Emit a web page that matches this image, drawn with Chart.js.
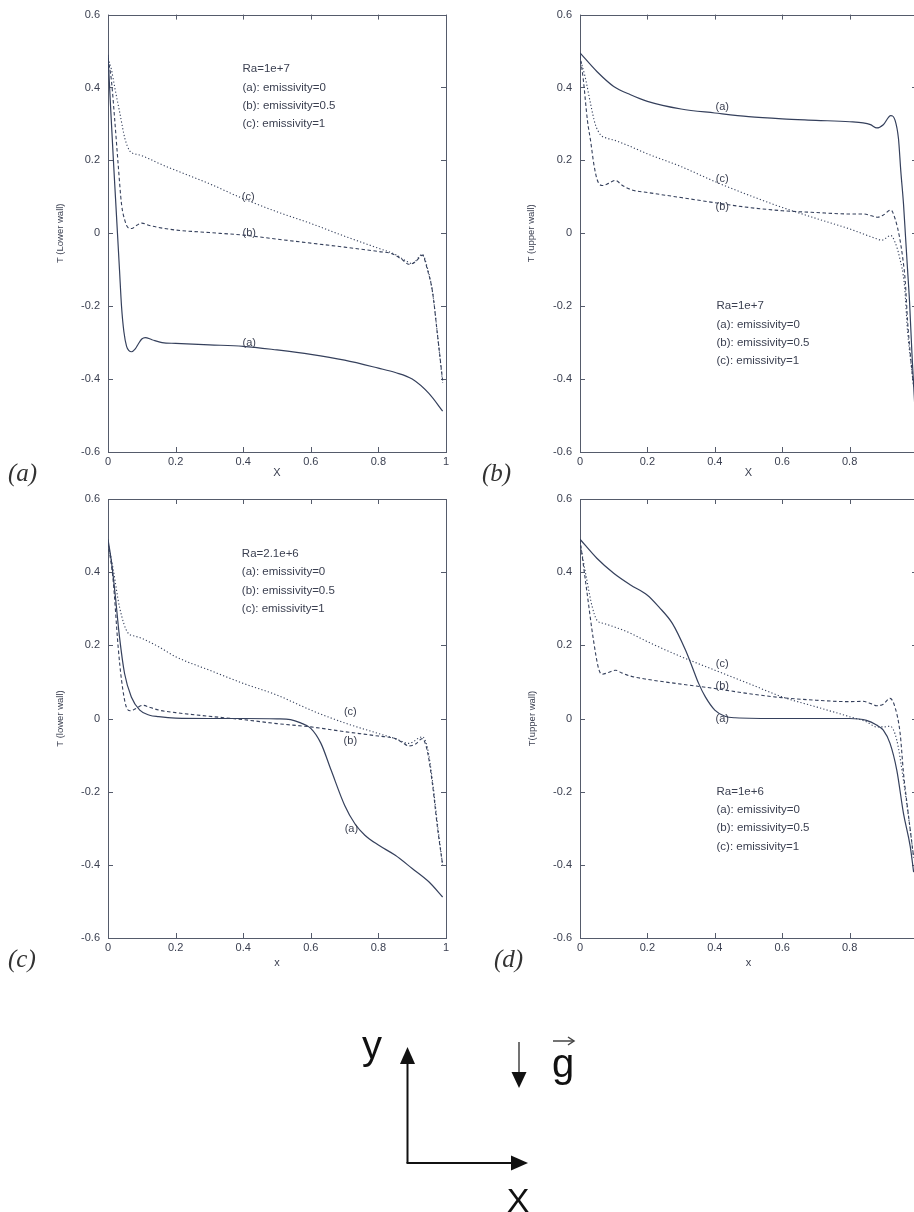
<!DOCTYPE html>
<html>
<head>
<meta charset="utf-8">
<script src="https://cdn.jsdelivr.net/npm/chart.js@4.4.1/dist/chart.umd.min.js"></script>
<style>
  html, body { margin: 0; padding: 0; background: #fff; }
  body { width: 914px; height: 1212px; position: relative; overflow: hidden; }
  canvas { position: absolute; }
  .tag { position: absolute; font-family: 'Liberation Serif', serif; font-style: italic;
         font-size: 25px; line-height: 25px; color: #333; }
  svg { position: absolute; left: 0; top: 0; }
</style>
</head>
<body>
<canvas id="p1" width="460" height="480" style="left:0;top:0;width:460px;height:480px"></canvas>
<canvas id="p2" width="470" height="480" style="left:460px;top:0;width:470px;height:480px"></canvas>
<canvas id="p3" width="460" height="500" style="left:0;top:480px;width:460px;height:500px"></canvas>
<canvas id="p4" width="470" height="500" style="left:460px;top:480px;width:470px;height:500px"></canvas>

<div class="tag" style="left:8px;top:460px">(a)</div>
<div class="tag" style="left:482px;top:460px">(b)</div>
<div class="tag" style="left:8px;top:946px">(c)</div>
<div class="tag" style="left:494px;top:946px">(d)</div>

<svg width="914" height="1212">
  <g stroke="#111" stroke-width="2" fill="#111">
    <line x1="407.5" y1="1163" x2="407.5" y2="1060" />
    <polygon points="407.5,1047 400,1064 415,1064" stroke="none" />
    <line x1="406.5" y1="1163" x2="514" y2="1163" />
    <polygon points="528,1163 511,1155.5 511,1170.5" stroke="none" />
  </g>
  <g stroke="#444" stroke-width="1.5" fill="#111">
    <line x1="519" y1="1042" x2="519" y2="1075" />
    <polygon points="519,1088 511.5,1072 526.5,1072" stroke="none" />
    <line x1="553" y1="1041" x2="574" y2="1041" />
    <polyline points="568,1037 574,1041 568,1045" fill="none" />
  </g>
  <g font-family="Liberation Sans, Arial, sans-serif" fill="#111">
    <text x="362" y="1059" font-size="40">y</text>
    <text x="552" y="1077" font-size="40">g</text>
    <text x="518" y="1212" font-size="34" text-anchor="middle">X</text>
  </g>
</svg>

<script>
// axis ticks shared by all four panels
const xTicks = [0, 0.2, 0.4, 0.6, 0.8, 1];
const xTickLabels = ['0', '0.2', '0.4', '0.6', '0.8', '1'];
const yTicks = [-0.6, -0.4, -0.2, 0, 0.2, 0.4, 0.6];
const yTickLabels = ['-0.6', '-0.4', '-0.2', '0', '0.2', '0.4', '0.6'];
const seriesNames = ['(a): emissivity=0', '(b): emissivity=0.5', '(c): emissivity=1'];

// panel (a): lower wall, Ra=1e+7
const p1_aX = [0, 0.008, 0.016, 0.022, 0.028, 0.034, 0.04, 0.047, 0.055, 0.062, 0.07, 0.08, 0.09, 0.1, 0.11, 0.13, 0.16, 0.2, 0.3, 0.4, 0.5, 0.6, 0.7, 0.8, 0.85, 0.9, 0.95, 0.99];
const p1_aT = [0.49, 0.34, 0.2, 0.1, 0.0, -0.1, -0.2, -0.27, -0.31, -0.322, -0.325, -0.318, -0.303, -0.29, -0.286, -0.292, -0.3, -0.302, -0.306, -0.31, -0.32, -0.332, -0.348, -0.37, -0.382, -0.4, -0.44, -0.488];
const p1_bX = [0, 0.01, 0.02, 0.03, 0.04, 0.05, 0.06, 0.07, 0.085, 0.1, 0.12, 0.15, 0.2, 0.3, 0.4, 0.5, 0.6, 0.7, 0.8, 0.84, 0.87, 0.89, 0.91, 0.93, 0.945, 0.96, 0.975, 0.99];
const p1_bT = [0.48, 0.42, 0.31, 0.19, 0.08, 0.035, 0.015, 0.013, 0.022, 0.028, 0.022, 0.016, 0.009, 0.002, -0.005, -0.016, -0.027, -0.038, -0.05, -0.056, -0.072, -0.085, -0.078, -0.06, -0.1, -0.16, -0.28, -0.404];
const p1_cX = [0, 0.01, 0.02, 0.035, 0.05, 0.065, 0.08, 0.1, 0.12, 0.15, 0.2, 0.3, 0.4, 0.5, 0.6, 0.7, 0.8, 0.85, 0.88, 0.9, 0.93, 0.945, 0.96, 0.975, 0.99];
const p1_cT = [0.48, 0.45, 0.4, 0.33, 0.26, 0.225, 0.218, 0.213, 0.205, 0.192, 0.173, 0.136, 0.095, 0.059, 0.027, -0.008, -0.041, -0.058, -0.075, -0.083, -0.058, -0.095, -0.16, -0.28, -0.41];

// panel (b): upper wall, Ra=1e+7
const p2_aX = [0, 0.05, 0.1, 0.15, 0.2, 0.3, 0.4, 0.5, 0.6, 0.7, 0.8, 0.84, 0.862, 0.881, 0.9, 0.922, 0.935, 0.945, 0.952, 0.96, 0.966, 0.972, 0.978, 0.985, 0.995];
const p2_aT = [0.495, 0.444, 0.403, 0.38, 0.362, 0.341, 0.33, 0.32, 0.314, 0.31, 0.306, 0.303, 0.298, 0.289, 0.298, 0.323, 0.31, 0.26, 0.17, 0.08, -0.01, -0.1, -0.19, -0.33, -0.5];
const p2_bX = [0, 0.01, 0.022, 0.032, 0.041, 0.051, 0.066, 0.085, 0.105, 0.125, 0.154, 0.2, 0.3, 0.4, 0.5, 0.6, 0.7, 0.8, 0.84, 0.865, 0.883, 0.9, 0.922, 0.935, 0.948, 0.958, 0.965, 0.972, 0.98, 0.99];
const p2_bT = [0.49, 0.42, 0.31, 0.25, 0.19, 0.147, 0.131, 0.137, 0.145, 0.132, 0.119, 0.112, 0.098, 0.084, 0.071, 0.062, 0.057, 0.053, 0.053, 0.048, 0.044, 0.05, 0.064, 0.04, -0.01, -0.07, -0.13, -0.24, -0.33, -0.42];
const p2_cX = [0, 0.015, 0.031, 0.045, 0.061, 0.08, 0.1, 0.15, 0.2, 0.3, 0.4, 0.5, 0.6, 0.7, 0.8, 0.85, 0.88, 0.895, 0.922, 0.935, 0.948, 0.963, 0.972, 0.98, 0.99];
const p2_cT = [0.48, 0.43, 0.357, 0.3, 0.27, 0.261, 0.256, 0.238, 0.218, 0.183, 0.142, 0.105, 0.071, 0.041, 0.012, -0.005, -0.015, -0.019, -0.006, -0.025, -0.065, -0.145, -0.27, -0.34, -0.42];

// panel (c): lower wall, Ra=2.1e+6
const p3_aX = [0, 0.01, 0.02, 0.034, 0.049, 0.069, 0.094, 0.123, 0.15, 0.2, 0.3, 0.4, 0.5, 0.54, 0.57, 0.6, 0.63, 0.66, 0.7, 0.73, 0.76, 0.8, 0.85, 0.9, 0.95, 0.99];
const p3_aT = [0.49, 0.43, 0.35, 0.223, 0.123, 0.059, 0.023, 0.009, 0.005, 0.001, 0, 0, -0.001, -0.003, -0.012, -0.027, -0.068, -0.141, -0.237, -0.287, -0.319, -0.346, -0.374, -0.41, -0.447, -0.488];
const p3_bX = [0, 0.015, 0.03, 0.04, 0.054, 0.066, 0.08, 0.103, 0.125, 0.15, 0.2, 0.3, 0.4, 0.5, 0.6, 0.7, 0.8, 0.85, 0.87, 0.89, 0.91, 0.93, 0.945, 0.96, 0.975, 0.99];
const p3_bT = [0.48, 0.38, 0.196, 0.105, 0.032, 0.021, 0.026, 0.036, 0.03, 0.023, 0.016, 0.006, -0.003, -0.014, -0.023, -0.036, -0.048, -0.055, -0.065, -0.075, -0.07, -0.055, -0.09, -0.18, -0.3, -0.4];
const p3_cX = [0, 0.015, 0.034, 0.059, 0.08, 0.1, 0.15, 0.2, 0.3, 0.4, 0.5, 0.6, 0.7, 0.8, 0.85, 0.89, 0.93, 0.945, 0.96, 0.975, 0.99];
const p3_cT = [0.48, 0.41, 0.305, 0.234, 0.225, 0.219, 0.196, 0.169, 0.132, 0.096, 0.064, 0.023, -0.012, -0.041, -0.055, -0.068, -0.05, -0.08, -0.17, -0.29, -0.4];

// panel (d): upper wall, Ra=1e+6
const p4_aX = [0, 0.05, 0.1, 0.15, 0.2, 0.234, 0.274, 0.313, 0.333, 0.352, 0.372, 0.4, 0.43, 0.46, 0.6, 0.8, 0.85, 0.88, 0.9, 0.92, 0.94, 0.96, 0.98, 0.99];
const p4_aT = [0.49, 0.438, 0.397, 0.365, 0.337, 0.305, 0.26, 0.187, 0.141, 0.096, 0.059, 0.023, 0.006, 0.002, 0, 0, -0.005, -0.018, -0.032, -0.068, -0.141, -0.26, -0.35, -0.42];
const p4_bX = [0, 0.02, 0.04, 0.055, 0.065, 0.085, 0.105, 0.125, 0.15, 0.2, 0.3, 0.4, 0.5, 0.6, 0.7, 0.8, 0.84, 0.865, 0.88, 0.9, 0.92, 0.935, 0.95, 0.96, 0.97, 0.98, 0.99];
const p4_bT = [0.49, 0.35, 0.214, 0.137, 0.121, 0.126, 0.132, 0.124, 0.116, 0.107, 0.094, 0.082, 0.068, 0.057, 0.05, 0.046, 0.047, 0.04, 0.035, 0.039, 0.055, 0.03, -0.041, -0.15, -0.23, -0.305, -0.38];
const p4_cX = [0, 0.02, 0.035, 0.05, 0.07, 0.1, 0.15, 0.2, 0.3, 0.4, 0.5, 0.6, 0.7, 0.8, 0.85, 0.88, 0.9, 0.92, 0.94, 0.96, 0.98, 0.99];
const p4_cT = [0.48, 0.38, 0.31, 0.269, 0.26, 0.251, 0.233, 0.21, 0.169, 0.132, 0.096, 0.059, 0.032, 0.005, -0.009, -0.023, -0.023, -0.021, -0.059, -0.17, -0.305, -0.38];

const LINE = '#35405c';
const TEXT = '#3a3f50';
const FONT = "'Liberation Sans', Arial, sans-serif";

// box with inward ticks on all four sides, like the gnuplot frame
const framePlugin = {
  id: 'frame',
  beforeDatasetsDraw(chart) {
    const { ctx, chartArea: a, scales: { x, y } } = chart;
    ctx.save();
    ctx.strokeStyle = '#555b6b';
    ctx.lineWidth = 1;
    ctx.strokeRect(Math.round(a.left) + 0.5, Math.round(a.top) + 0.5,
      Math.round(a.right - a.left), Math.round(a.bottom - a.top));
    ctx.beginPath();
    x.ticks.forEach(t => {
      const px = Math.round(x.getPixelForValue(t.value)) + 0.5;
      ctx.moveTo(px, a.bottom); ctx.lineTo(px, a.bottom - 5);
      ctx.moveTo(px, a.top); ctx.lineTo(px, a.top + 5);
    });
    y.ticks.forEach(t => {
      const py = Math.round(y.getPixelForValue(t.value)) + 0.5;
      ctx.moveTo(a.left, py); ctx.lineTo(a.left + 5, py);
      ctx.moveTo(a.right, py); ctx.lineTo(a.right - 5, py);
    });
    ctx.stroke();
    ctx.restore();
  }
};

// Ra / emissivity block and the (a)(b)(c) curve labels, placed in data coordinates
const notesPlugin = {
  id: 'notes',
  afterDraw(chart, args, opts) {
    const { ctx, scales: { x, y } } = chart;
    ctx.save();
    ctx.fillStyle = TEXT;
    ctx.font = '11.5px ' + FONT;
    ctx.textBaseline = 'middle';
    ctx.textAlign = 'left';
    opts.lines.forEach((s, i) => {
      ctx.fillText(s, x.getPixelForValue(opts.at[0]), y.getPixelForValue(opts.at[1] - i * 0.05));
    });
    ctx.font = '11px ' + FONT;
    ctx.textAlign = 'center';
    opts.marks.forEach(m => {
      ctx.fillText(m[0], x.getPixelForValue(m[1]), y.getPixelForValue(m[2]));
    });
    ctx.restore();
  }
};

function pts(xs, ts) {
  return xs.map((v, i) => ({ x: v, y: ts[i] }));
}

function makePanel(id, p) {
  const styles = [[], [3.5, 2.5], [1.2, 2.2]];
  const datasets = p.series.map((s, i) => ({
    label: seriesNames[i],
    data: pts(s[0], s[1]),
    borderColor: LINE,
    borderWidth: i === 0 ? 1.2 : 1.1,
    borderDash: styles[i],
    pointRadius: 0,
    fill: false,
    cubicInterpolationMode: 'monotone'
  }));

  return new Chart(document.getElementById(id), {
    type: 'line',
    data: { datasets },
    plugins: [framePlugin, notesPlugin],
    options: {
      responsive: false,
      animation: false,
      devicePixelRatio: 1,
      layout: { padding: { top: p.padTop, right: p.padRight, left: 0, bottom: 0 } },
      plugins: {
        legend: { display: false },
        tooltip: { enabled: false },
        notes: { lines: p.lines, at: p.notesAt, marks: p.marks }
      },
      scales: {
        x: {
          type: 'linear', min: 0, max: 1,
          grid: { display: false, drawTicks: false },
          border: { display: false },
          afterBuildTicks: s => { s.ticks = xTicks.map(v => ({ value: v })); },
          afterFit: s => { s.height = p.xHeight; },
          ticks: {
            padding: 3, color: TEXT, font: { family: FONT, size: 11 },
            maxRotation: 0, autoSkip: false,
            callback: (v, i) => xTickLabels[i]
          },
          title: {
            display: true, text: p.xTitle, color: TEXT,
            font: { family: FONT, size: 11 },
            padding: { top: 0, bottom: p.xTitlePad }
          }
        },
        y: {
          type: 'linear', min: -0.6, max: 0.6,
          grid: { display: false, drawTicks: false },
          border: { display: false },
          afterBuildTicks: s => { s.ticks = yTicks.map(v => ({ value: v })); },
          afterFit: s => { s.width = p.yWidth; },
          ticks: {
            padding: 8, color: TEXT, font: { family: FONT, size: 11 },
            autoSkip: false,
            callback: (v, i) => yTickLabels[i]
          },
          title: {
            display: true, text: p.yTitle, color: TEXT,
            font: { family: FONT, size: 9.5 },
            padding: { top: p.yTitlePad, bottom: 0 }
          }
        }
      }
    }
  });
}

makePanel('p1', {
  series: [[p1_aX, p1_aT], [p1_bX, p1_bT], [p1_cX, p1_cT]],
  lines: ['Ra=1e+7'].concat(seriesNames), notesAt: [0.398, 0.45],
  marks: [['(c)', 0.415, 0.1], ['(b)', 0.418, 0.0], ['(a)', 0.418, -0.302]],
  padTop: 12, padRight: 14, xHeight: 28, yWidth: 108,
  xTitle: 'X', xTitlePad: 0.5, yTitle: 'T (Lower wall)', yTitlePad: 55
});

makePanel('p2', {
  series: [[p2_aX, p2_aT], [p2_bX, p2_bT], [p2_cX, p2_cT]],
  lines: ['Ra=1e+7'].concat(seriesNames), notesAt: [0.405, -0.2],
  marks: [['(a)', 0.422, 0.347], ['(c)', 0.422, 0.15], ['(b)', 0.422, 0.073]],
  padTop: 12, padRight: 13, xHeight: 28, yWidth: 120,
  xTitle: 'X', xTitlePad: 0.5, yTitle: 'T (upper wall)', yTitlePad: 66
});

makePanel('p3', {
  series: [[p3_aX, p3_aT], [p3_bX, p3_bT], [p3_cX, p3_cT]],
  lines: ['Ra=2.1e+6'].concat(seriesNames), notesAt: [0.396, 0.45],
  marks: [['(c)', 0.717, 0.018], ['(b)', 0.717, -0.062], ['(a)', 0.72, -0.301]],
  padTop: 19, padRight: 14, xHeight: 42, yWidth: 108,
  xTitle: 'x', xTitlePad: 10.5, yTitle: 'T (lower wall)', yTitlePad: 55
});

makePanel('p4', {
  series: [[p4_aX, p4_aT], [p4_bX, p4_bT], [p4_cX, p4_cT]],
  lines: ['Ra=1e+6'].concat(seriesNames), notesAt: [0.405, -0.2],
  marks: [['(c)', 0.422, 0.149], ['(b)', 0.422, 0.088], ['(a)', 0.422, -0.002]],
  padTop: 19, padRight: 13, xHeight: 42, yWidth: 120,
  xTitle: 'x', xTitlePad: 10.5, yTitle: 'T(upper wall)', yTitlePad: 67
});
</script>
</body>
</html>
